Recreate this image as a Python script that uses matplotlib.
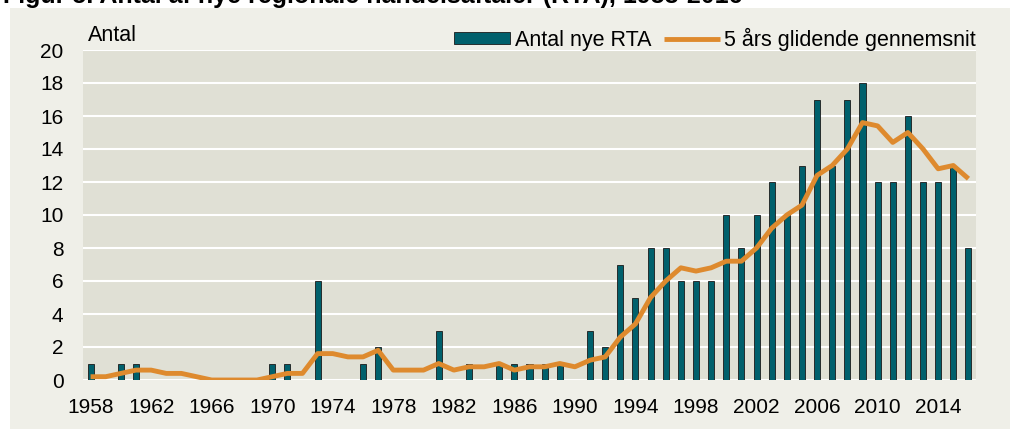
import numpy as np
import matplotlib.pyplot as plt
from matplotlib.patches import Rectangle

plt.rcParams['font.family'] = ['Liberation Sans', 'DejaVu Sans']

# --- DATA ---
years = list(range(1958, 2017))
rta_counts = [1, 0, 1, 1, 0, 0, 0, 0, 0, 0, 0, 0,      # 1958-1969
              1, 1, 0, 6, 0, 0, 1, 2, 0, 0, 0, 3,      # 1970-1981
              0, 1, 0, 1, 1, 1, 1, 1, 0, 3, 2, 7,      # 1982-1993
              5, 8, 8, 6, 6, 6, 10, 8, 10, 12, 10, 13, # 1994-2005
              17, 13, 17, 18, 12, 12, 16, 12, 12, 13, 8]  # 2006-2016
moving_avg = [0.2, 0.2, 0.4, 0.6, 0.6, 0.4, 0.4, 0.2, 0.0, 0.0, 0.0, 0.0,
              0.2, 0.4, 0.4, 1.6, 1.6, 1.4, 1.4, 1.8, 0.6, 0.6, 0.6, 1.0,
              0.6, 0.8, 0.8, 1.0, 0.6, 0.8, 0.8, 1.0, 0.8, 1.2, 1.4, 2.6,
              3.4, 5.0, 6.0, 6.8, 6.6, 6.8, 7.2, 7.2, 8.0, 9.2, 10.0, 10.6,
              12.4, 13.0, 14.0, 15.6, 15.4, 14.4, 15.0, 14.0, 12.8, 13.0, 12.2]
y_ticks = list(range(0, 21, 2))
x_labels = list(range(1958, 2015, 4))

title = "Figur 5. Antal af nye regionale handelsaftaler (RTA), 1958-2016"
bar_label = "Antal nye RTA"
line_label = "5 års glidende gennemsnit"

# --- COLOURS ---
panel_bg = '#EFEFE8'
plot_bg = '#E0E0D5'
bar_color = '#00606C'
line_color = '#DE8A2E'

# --- FIGURE ---
fig = plt.figure(figsize=(10.1, 4.29), dpi=100, facecolor='white')
fig.patches.append(Rectangle((10/1010, 0), 1, 1 - 8/429, transform=fig.transFigure,
                             facecolor=panel_bg, edgecolor='none', zorder=-5))

ax = fig.add_axes([83/1010, 49/429, 893/1010, 330/429])
ax.set_facecolor(plot_bg)

x = np.arange(len(years))
bars = ax.bar(x, rta_counts, width=0.4, color=bar_color, edgecolor='#1a1a1a',
              linewidth=0.6, zorder=3)
line, = ax.plot(x, moving_avg, color=line_color, linewidth=3.5, zorder=4,
                solid_capstyle='butt', solid_joinstyle='round')

ax.set_xlim(-0.5, len(years) - 0.5)
ax.set_ylim(0, 20)
ax.set_yticks(y_ticks)
ax.set_xticks([years.index(y) for y in x_labels])
ax.set_xticklabels([str(y) for y in x_labels])
ax.tick_params(axis='both', length=0, labelsize=15, colors='black')
ax.tick_params(axis='y', pad=14)
ax.tick_params(axis='x', pad=13)
ax.yaxis.grid(True, color='white', linewidth=1.5, zorder=1)
ax.set_axisbelow(True)
for s in ax.spines.values():
    s.set_visible(False)

ax.text(0.005, 1.012, "Antal", transform=ax.transAxes, fontsize=15.5,
        ha='left', va='bottom')

ax.legend([bars, line], [bar_label, line_label], loc='lower right',
          bbox_to_anchor=(1.005, 0.985), ncol=2,
          frameon=False, fontsize=15.5, handlelength=2.6, handleheight=0.45,
          handletextpad=0.2, columnspacing=0.6, borderpad=0.2,
          borderaxespad=0.0)

fig.text(0.003, 1 - 3/429, title, fontsize=18, fontweight='bold',
         ha='left', va='baseline')

fig.savefig('out.png', dpi=100, facecolor=fig.get_facecolor())
